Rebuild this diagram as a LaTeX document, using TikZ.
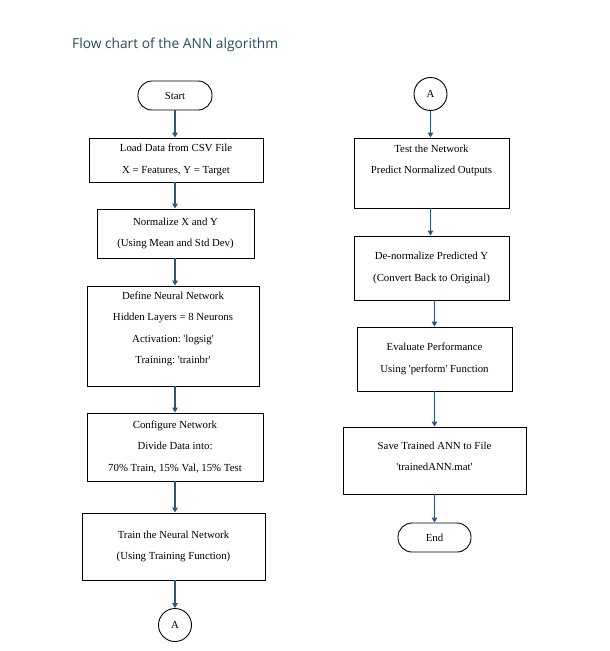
\documentclass[tikz,border=0pt]{standalone}
\usepackage{fontspec}
\setmainfont{Liberation Serif}
\newfontfamily\titlefont{Open Sans}
\usetikzlibrary{arrows.meta}
\frenchspacing
\newcommand{\sq}{\textquotesingle}
\definecolor{titlecol}{RGB}{32,78,98}
\definecolor{arrcol}{RGB}{40,90,120}
\tikzset{
  boxstyle/.style={draw=black, line width=0.9pt, inner sep=0pt, align=center,
    font=\fontsize{10.8}{21.5}\selectfont},
  termstyle/.style={boxstyle, rounded corners=14pt, minimum width=74pt, minimum height=29pt},
  connstyle/.style={draw=black, line width=0.9pt, circle, inner sep=0pt, minimum size=33pt,
    font=\fontsize{10.8}{13}\selectfont},
  arr/.style={draw=arrcol, line width=1.2pt, -{Triangle[width=5.5pt,length=5pt]}}
}
\begin{document}
\begin{tikzpicture}[x=1pt,y=-1pt]
\useasboundingbox (0,0) rectangle (610,651);
\fill[white] (0,0) rectangle (610,651);
\node[anchor=base west, text=titlecol, inner sep=0pt] (title) at (72,48)
  {\resizebox{206pt}{!}{\titlefont Flow chart of the ANN algorithm}};
% left column
\node[termstyle] (start) at (175,95.5) {Start};
\node[boxstyle, minimum width=174pt, minimum height=44pt] (load) at (176,160)
  {Load Data from CSV File\\X = Features, Y = Target};
\node[boxstyle, minimum width=157pt, minimum height=49pt] (norm) at (175.5,233.5)
  {Normalize X and Y\\(Using Mean and Std Dev)};
\node[boxstyle, minimum width=172pt, minimum height=100pt] (define) at (173,336)
  {Define Neural Network\\Hidden Layers = 8 Neurons\\Activation: \sq logsig\sq\\Training: \sq trainbr\sq\\[-11pt]\strut};
\node[boxstyle, minimum width=176pt, minimum height=68pt] (config) at (175,447)
  {Configure Network\\Divide Data into:\\70\% Train, 15\% Val, 15\% Test};
\node[boxstyle, minimum width=183pt, minimum height=67pt] (train) at (173.5,546.5)
  {Train the Neural Network\\(Using Training Function)};
\node[connstyle] (aleft) at (175,625) {A};
\draw[arr] (start.south) -- (start.south |- load.north);
\draw[arr] (start.south |- load.south) -- (start.south |- norm.north);
\draw[arr] (start.south |- norm.south) -- (start.south |- define.north);
\draw[arr] (start.south |- define.south) -- (start.south |- config.north);
\draw[arr] (start.south |- config.south) -- (start.south |- train.north);
\draw[arr] (start.south |- train.south) -- (aleft.north);
% right column
\node[connstyle] (aright) at (430.5,94) {A};
\node[boxstyle, minimum width=155pt, minimum height=70pt] (test) at (431.5,173)
  {Test the Network\\Predict Normalized Outputs\\\strut};
\node[boxstyle, minimum width=155pt, minimum height=64pt] (denorm) at (431.5,268)
  {De-normalize Predicted Y\\(Convert Back to Original)};
\node[boxstyle, minimum width=155pt, minimum height=64pt] (eval) at (434.5,359)
  {Evaluate Performance\\Using \sq perform\sq{} Function};
\node[boxstyle, minimum width=183pt, minimum height=67pt] (save) at (434.5,460.5)
  {Save Trained ANN to File\\\sq trainedANN.mat\sq\\[-19pt]\strut};
\node[termstyle, minimum width=73pt] (end) at (434.5,537.5) {End};
\draw[arr] (aright.south) -- (aright.south |- test.north);
\draw[arr] (aright.south |- test.south) -- (aright.south |- denorm.north);
\draw[arr] (eval.north |- denorm.south) -- (eval.north);
\draw[arr] (eval.south) -- (eval.south |- save.north);
\draw[arr] (eval.south |- save.south) -- (end.north);
\end{tikzpicture}
\end{document}
